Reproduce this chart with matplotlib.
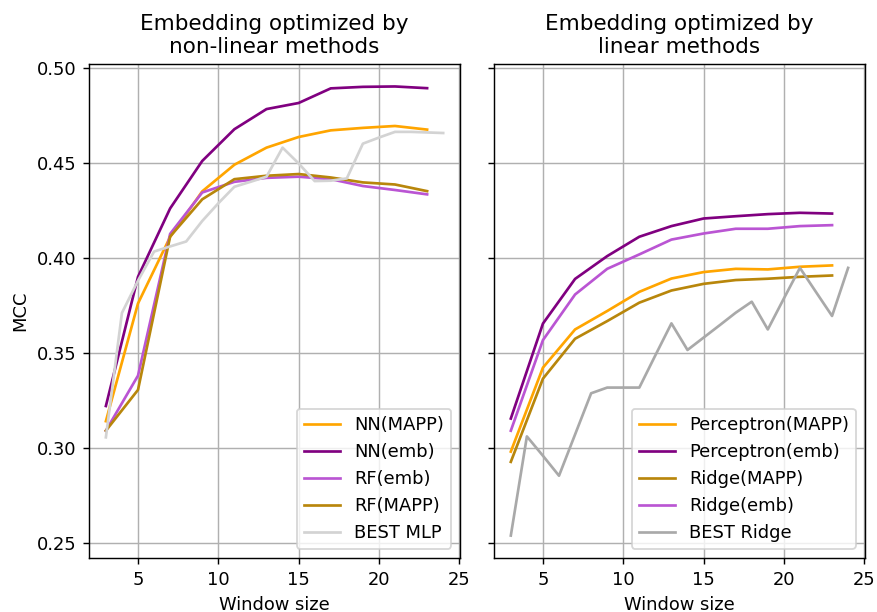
import numpy as np
from matplotlib import pyplot as plt

# window sizes
w_odd = [3, 5, 7, 9, 11, 13, 15, 17, 19, 21, 23]
w_all = list(range(3, 25))

# non-linear methods
nn_mapp = [0.314, 0.376, 0.411, 0.435, 0.449, 0.458, 0.4636, 0.4671, 0.4684, 0.4694, 0.4675]
nn_emb = [0.322, 0.390, 0.426, 0.451, 0.4677, 0.4783, 0.4815, 0.4892, 0.4900, 0.4902, 0.4893]
rf_emb = [0.309, 0.338, 0.4126, 0.4344, 0.4400, 0.4421, 0.4427, 0.4414, 0.4378, 0.4357, 0.4334]
rf_mapp = [0.309, 0.3305, 0.4112, 0.4308, 0.4414, 0.4432, 0.4441, 0.4423, 0.4397, 0.4386, 0.4351]
best_mlp = [0.3055, 0.371, 0.388, 0.4033, 0.406, 0.4086, 0.4194, 0.4287, 0.4374, 0.4400,
            0.4427, 0.458, 0.4497, 0.4404, 0.4406, 0.4418, 0.4601, 0.4633, 0.4663, 0.4663,
            0.4660, 0.4657]

# linear methods
perc_mapp = [0.298, 0.3422, 0.3623, 0.372, 0.3821, 0.3891, 0.3925, 0.3942, 0.3939, 0.3953, 0.3960]
perc_emb = [0.3154, 0.3654, 0.3889, 0.4009, 0.4111, 0.4167, 0.4207, 0.4219, 0.4230, 0.4237, 0.4233]
ridge_mapp = [0.2926, 0.3364, 0.3574, 0.3667, 0.3764, 0.3828, 0.3863, 0.3883, 0.3890, 0.3900, 0.3907]
ridge_emb = [0.309, 0.3567, 0.3807, 0.3942, 0.4018, 0.4096, 0.4128, 0.4153, 0.4153, 0.4167, 0.4172]
best_ridge = [0.2538, 0.306, 0.2958, 0.2853, 0.307, 0.3287, 0.3317, 0.3317, 0.3317, 0.3487,
              0.3655, 0.3515, 0.358, 0.3645, 0.3711, 0.3769, 0.3623, 0.3786, 0.3947, 0.382,
              0.3694, 0.3947]

dpi = 129
fig, (ax1, ax2) = plt.subplots(1, 2, figsize=(877 / dpi, 612 / dpi), dpi=dpi, sharey=True)
fig.subplots_adjust(left=0.1015, right=0.9863, top=0.8954, bottom=0.0882, wspace=0.0914)

ax1.plot(w_odd, nn_mapp, color='orange', label='NN(MAPP)')
ax1.plot(w_odd, nn_emb, color='purple', label='NN(emb)')
ax1.plot(w_odd, rf_emb, color='mediumorchid', label='RF(emb)')
ax1.plot(w_odd, rf_mapp, color='darkgoldenrod', label='RF(MAPP)')
ax1.plot(w_all, best_mlp, color='lightgray', label='BEST MLP')
ax1.set_title('Embedding optimized by\nnon-linear methods')
ax1.set_xlabel('Window size')
ax1.set_ylabel('MCC')

ax2.plot(w_odd, perc_mapp, color='orange', label='Perceptron(MAPP)')
ax2.plot(w_odd, perc_emb, color='purple', label='Perceptron(emb)')
ax2.plot(w_odd, ridge_mapp, color='darkgoldenrod', label='Ridge(MAPP)')
ax2.plot(w_odd, ridge_emb, color='mediumorchid', label='Ridge(emb)')
ax2.plot(w_all, best_ridge, color='darkgray', label='BEST Ridge')
ax2.set_title('Embedding optimized by\nlinear methods')
ax2.set_xlabel('Window size')

for ax in (ax1, ax2):
    ax.grid(True)
    ax.set_xticks([5, 10, 15, 20, 25])
    ax.set_yticks([0.25, 0.30, 0.35, 0.40, 0.45, 0.50])
    ax.legend(loc='lower right')
ax2.tick_params(labelleft=False)
ax1.yaxis.set_major_formatter(plt.FormatStrFormatter('%.2f'))

fig.savefig('out.png', dpi=dpi)
